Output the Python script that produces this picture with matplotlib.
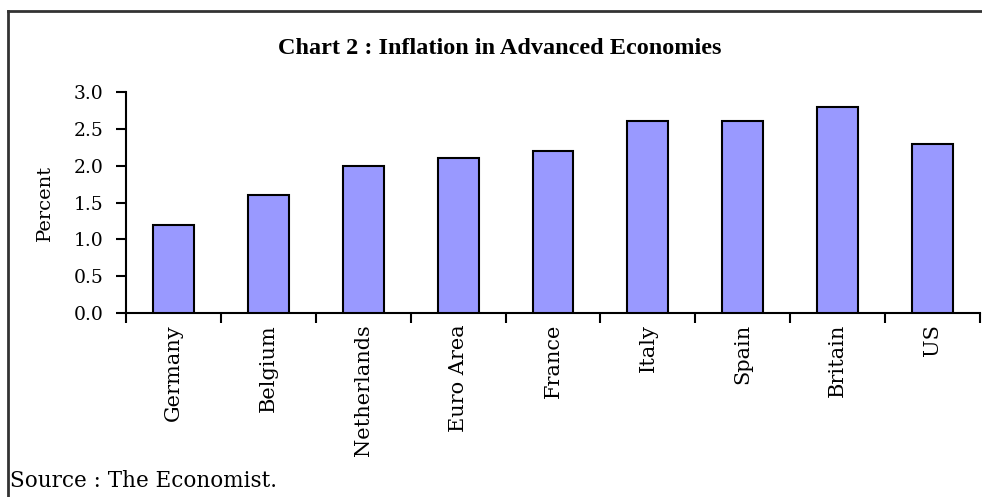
import matplotlib
matplotlib.use("Agg")
import matplotlib.pyplot as plt
from matplotlib.lines import Line2D
import numpy as np

categories = ["Germany", "Belgium", "Netherlands", "Euro Area", "France",
              "Italy", "Spain", "Britain", "US"]
values = [1.2, 1.6, 2.0, 2.1, 2.2, 2.6, 2.6, 2.8, 2.3]
yticks = [0.0, 0.5, 1.0, 1.5, 2.0, 2.5, 3.0]

plt.rcParams['font.family'] = ['DejaVu Serif']

W, H = 982, 497
fig = plt.figure(figsize=(W / 100, H / 100), dpi=100)
fig.patch.set_facecolor('white')
ax = fig.add_axes([126 / W, 1 - 313 / H, (980 - 126) / W, (313 - 92) / H])

x = np.arange(len(categories))
ax.bar(x, values, width=0.43, color='#9999FF', edgecolor='black', linewidth=1.5, zorder=3)

ax.set_xlim(-0.5, len(categories) - 0.5)
ax.set_ylim(0, 3.0)
ax.set_yticks(yticks)
ax.set_yticklabels([f"{v:.1f}" for v in yticks], fontsize=13.5)
ax.set_xticks(x)
ax.set_xticklabels(categories, rotation=90, fontsize=15)
ax.set_xticks(np.arange(len(categories) + 1) - 0.5, minor=True)
ax.tick_params(axis='x', which='major', length=0, pad=8)
ax.tick_params(axis='x', which='minor', length=7, width=1.5, direction='out')
ax.tick_params(axis='y', which='major', length=7, width=1.5, direction='out', pad=9)

for s in ['top', 'right']:
    ax.spines[s].set_visible(False)
for s in ['left', 'bottom']:
    ax.spines[s].set_linewidth(1.5)

fig.text(45 / W, 1 - 202.5 / H, "Percent", rotation=90, ha='center', va='center',
         fontsize=14)

fig.text(500 / W, 1 - 49 / H, "Chart 2 : Inflation in Advanced Economies", ha='center',
         va='center', fontsize=17.5, fontweight='bold', family='Liberation Serif')
fig.text(10 / W, 1 - 481 / H, "Source : The Economist.", ha='left', va='center',
         fontsize=15.5)

fig.add_artist(Line2D([8 / W, 1.0], [1 - 11 / H, 1 - 11 / H], transform=fig.transFigure,
                      color='#333333', linewidth=2))
fig.add_artist(Line2D([8 / W, 8 / W], [1 - 11 / H, 0.0], transform=fig.transFigure,
                      color='#333333', linewidth=2))

fig.savefig("out.png", dpi=100)
